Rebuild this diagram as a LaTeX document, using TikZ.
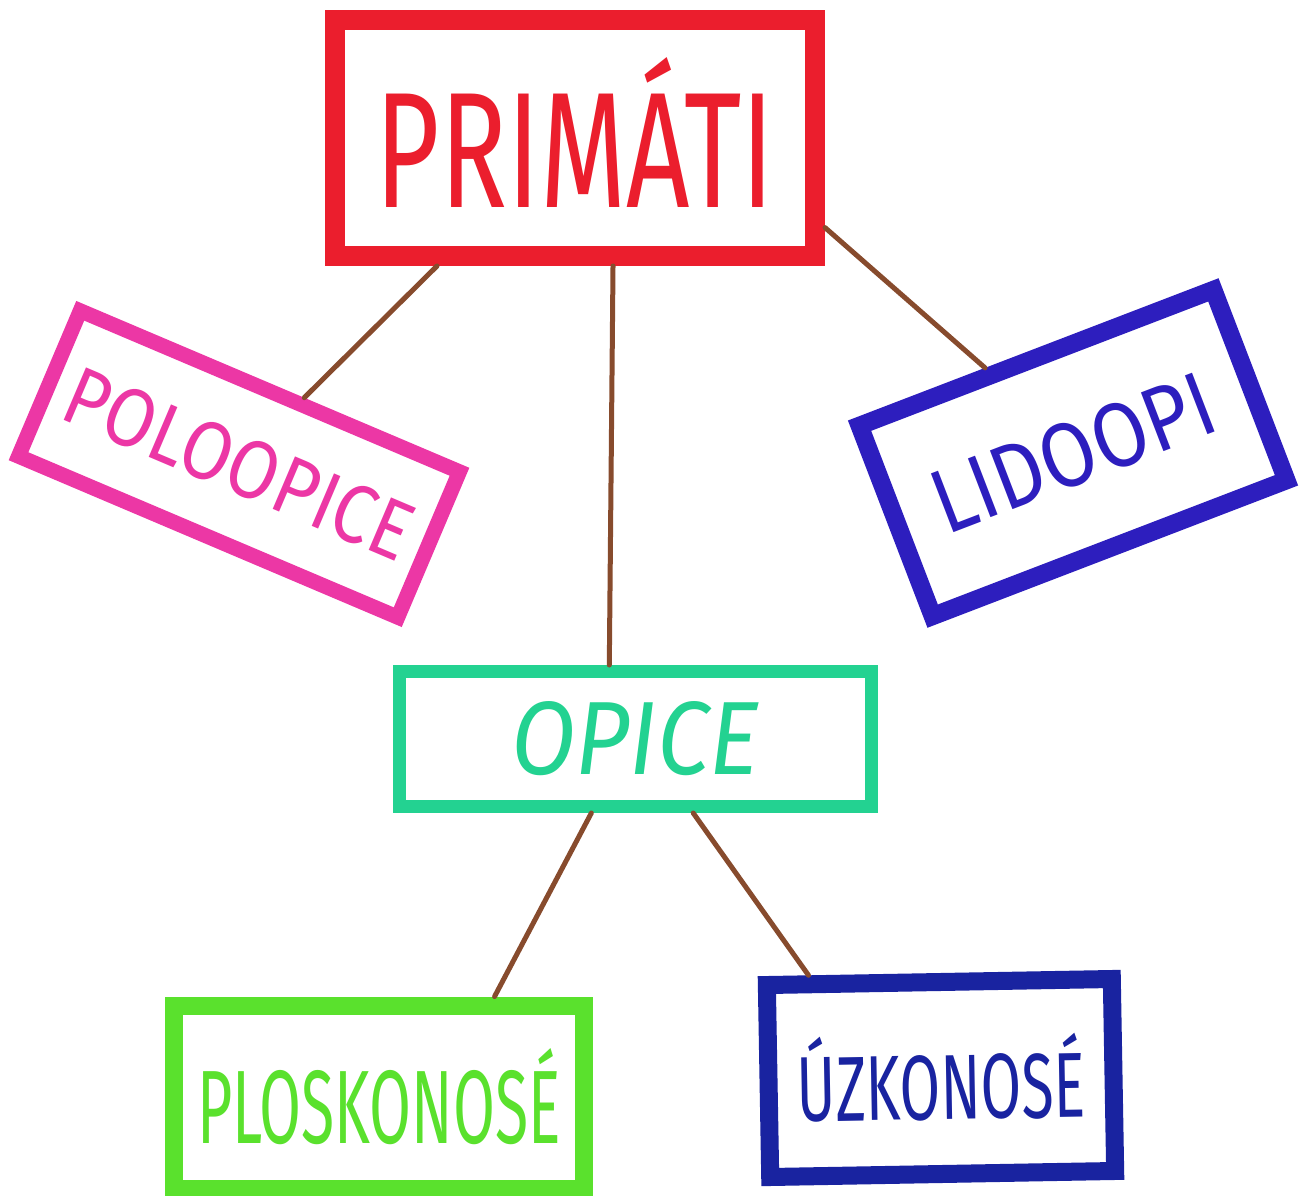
\documentclass[tikz,border=0pt]{standalone}
\usepackage{fontspec}
\setmainfont{Fira Sans}
\usepackage{graphicx}
\usetikzlibrary{calc}

\definecolor{primred}{RGB}{235,30,45}
\definecolor{halfpink}{RGB}{236,55,165}
\definecolor{apeblue}{RGB}{45,30,190}
\definecolor{monkeymint}{RGB}{35,210,145}
\definecolor{flatgreen}{RGB}{90,225,45}
\definecolor{narrownavy}{RGB}{25,35,160}
\definecolor{twig}{RGB}{135,75,45}

\begin{document}
\begin{tikzpicture}[auto,
    group/.style ={rectangle, draw, fill=white, inner sep=0pt},
    branch/.style ={line width=0.5mm, draw=twig, line cap=round}]
   \useasboundingbox (0,0) rectangle (13,-11.96);

   \node[group, draw=primred, text=primred, line width=2mm, minimum width=4.8cm, minimum height=2.36cm] (PR) at (5.75,-1.38) {\raisebox{0.1cm}{\resizebox{3.98cm}{1.5cm}{PRIMÁTI}}};
   \node[group, draw=halfpink, text=halfpink, line width=1.5mm, minimum width=4.12cm, minimum height=1.58cm, rotate=-23] (PO) at (2.39,-4.64) {\resizebox{3.7cm}{0.58cm}{POLOOPICE}};
   \node[group, draw=apeblue, text=apeblue, line width=1.8mm, minimum width=3.79cm, minimum height=2.04cm, rotate=21] (LI) at (10.73,-4.53) {\resizebox{2.95cm}{0.64cm}{LIDOOPI}};
   \node[group, draw=monkeymint, text=monkeymint, line width=1.3mm, minimum width=4.72cm, minimum height=1.35cm] (OP) at (6.35,-7.39) {\resizebox{2.48cm}{0.73cm}{\itshape OPICE}\hspace{0.52cm}};
   \node[group, draw=flatgreen, text=flatgreen, line width=1.8mm, minimum width=4.1cm, minimum height=1.83cm] (PL) at (3.79,-10.97) {\resizebox{3.64cm}{0.95cm}{PLOSKONOSÉ}};
   \node[group, draw=narrownavy, text=narrownavy, line width=1.8mm, minimum width=3.45cm, minimum height=1.92cm, rotate=1] (UZ) at (9.41,-10.78) {\resizebox{2.88cm}{0.84cm}{ÚZKONOSÉ}};

   \draw[branch] ($(PR.south west)!0.224!(PR.south east)$) -- ($(PO.north west)!0.58!(PO.north east)$);
   \draw[branch] ($(PR.south west)!0.576!(PR.south east)$) -- ($(OP.north west)!0.447!(OP.north east)$);
   \draw[branch] ($(PR.north east)!0.85!(PR.south east)$) -- ($(LI.north west)!0.37!(LI.north east)$);
   \draw[branch] ($(OP.south west)!0.41!(OP.south east)$) -- ($(PL.north west)!0.77!(PL.north east)$);
   \draw[branch] ($(OP.south west)!0.62!(OP.south east)$) -- ($(UZ.north west)!0.14!(UZ.north east)$);
 \end{tikzpicture}
\end{document}
